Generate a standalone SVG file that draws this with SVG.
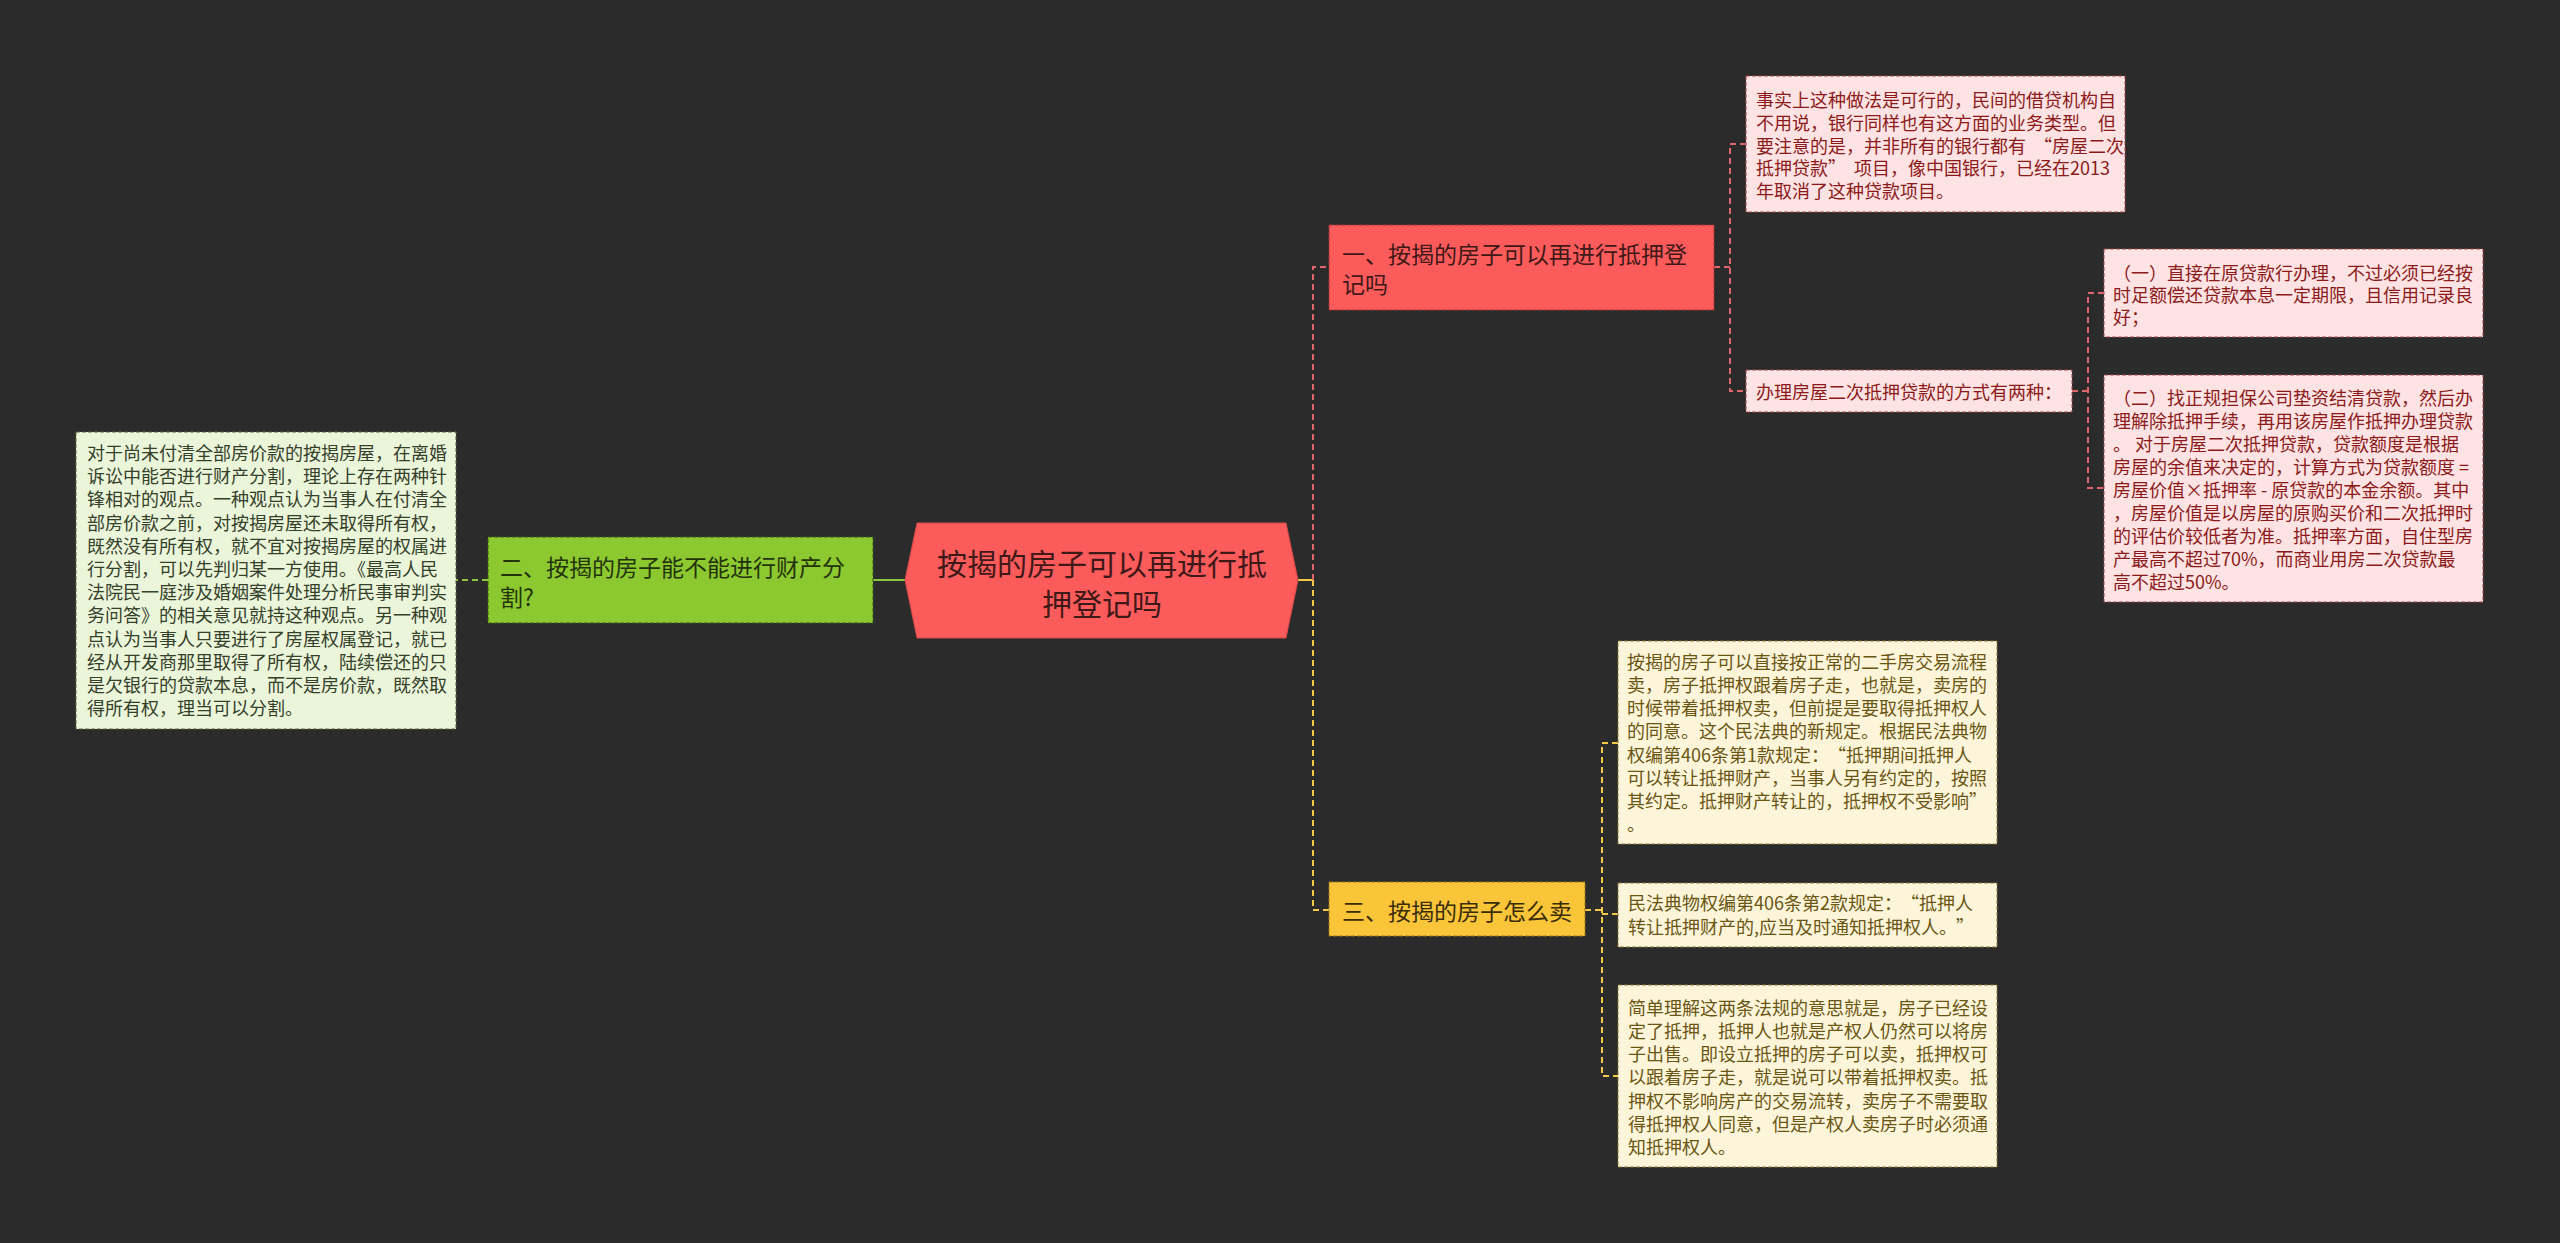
<svg xmlns="http://www.w3.org/2000/svg" width="2560" height="1243" viewBox="0 0 2560 1243">
<style>
text{font-family:"Microsoft YaHei","Noto Sans CJK SC","Noto Sans",sans-serif;}
.t18{font-size:18px;}
.t23{font-size:23px;}
.t30{font-size:30px;}
.pinkbox{fill:#fde3e3;stroke:#a24848;stroke-width:1;stroke-dasharray:4 2;}
.pinktxt{fill:#8c1a1a;}
.rednode{fill:#fb5b5b;stroke:#a83232;stroke-width:1;stroke-dasharray:4 2;}
.redtxt{fill:#3f1818;}
.ybox{fill:#fdf5da;stroke:#8a7838;stroke-width:1;stroke-dasharray:4 2;}
.ytxt{fill:#6a5612;}
.ynode{fill:#fbc53a;stroke:#9a7a18;stroke-width:1;stroke-dasharray:4 2;}
.yntxt{fill:#3a2d08;}
.gnode{fill:#8cc830;stroke:#3d5a14;stroke-width:1;stroke-dasharray:4 2;}
.gntxt{fill:#24330c;}
.gbox{fill:#ebf5da;stroke:#56673a;stroke-width:1;stroke-dasharray:4 2;}
.gtxt{fill:#34402a;}
.cr{fill:none;stroke:#e0666a;stroke-width:2;stroke-dasharray:6 4;}
.cy{fill:none;stroke:#f2c845;stroke-width:2;stroke-dasharray:6 4;}
.cg{fill:none;stroke:#8cc63f;stroke-width:2;stroke-dasharray:6 4;}
</style>
<rect x="0" y="0" width="2560" height="1243" fill="#2b2b2b"/>

<g id="connectors">
  <path d="M1298 580 H1313" fill="none" stroke="#f2c845" stroke-width="2"/>
  <path class="cr" d="M1313 580 V267 H1329"/>
  <path class="cy" d="M1313 580 V910 H1329"/>
  <path class="cr" d="M1714 267 H1730"/>
  <path class="cr" d="M1746 144 H1730 V391 H1746"/>
  <path class="cr" d="M2072 391 H2088"/>
  <path class="cr" d="M2104 293 H2088 V488 H2104"/>
  <path class="cy" d="M1585 910 H1602"/>
  <path class="cy" d="M1618 743 H1602 V1076 H1618 M1602 914 H1618"/>
  <path d="M905 580 H873" fill="none" stroke="#8cc63f" stroke-width="2"/>
  <path class="cg" d="M488 580 H456"/>
</g>

<g id="center">
  <polygon points="917,523 1286,523 1298,580 1286,638 917,638 905,580" fill="#fb5b5b" stroke="#d84848" stroke-width="1"/>
  <text class="t30 redtxt" x="1102" y="574.5" text-anchor="middle">按揭的房子可以再进行抵</text>
  <text class="t30 redtxt" x="1102" y="614.5" text-anchor="middle">押登记吗</text>
</g>

<g id="node-1">
  <rect class="rednode" x="1329" y="225" width="385" height="85"/>
  <text class="t23 redtxt" x="1342" y="262.7">一、按揭的房子可以再进行抵押登</text>
  <text class="t23 redtxt" x="1342" y="292.5">记吗</text>
</g>

<g id="node-1-a">
  <rect class="pinkbox" x="1746" y="76" width="379" height="136"/>
  <text class="t18 pinktxt" x="1756" y="107">事实上这种做法是可行的，民间的借贷机构自</text>
  <text class="t18 pinktxt" x="1756" y="129.8">不用说，银行同样也有这方面的业务类型。但</text>
  <text class="t18 pinktxt" x="1756" y="152.6">要注意的是，并非所有的银行都有<tspan dx="8">“</tspan>房屋二次</text>
  <text class="t18 pinktxt" x="1756" y="175.4">抵押贷款”<tspan dx="8">项目，像中国银行，已经在2013</tspan></text>
  <text class="t18 pinktxt" x="1756" y="198.2">年取消了这种贷款项目。</text>
</g>

<g id="node-1-b">
  <rect class="pinkbox" x="1746" y="370" width="326" height="42"/>
  <text class="t18 pinktxt" x="1756" y="398.5">办理房屋二次抵押贷款的方式有两种：</text>
</g>

<g id="node-1-b-1">
  <rect class="pinkbox" x="2104" y="249" width="379" height="88"/>
  <text class="t18 pinktxt" x="2113" y="280">（一）直接在原贷款行办理，不过必须已经按</text>
  <text class="t18 pinktxt" x="2113" y="302">时足额偿还贷款本息一定期限，且信用记录良</text>
  <text class="t18 pinktxt" x="2113" y="324">好；</text>
</g>

<g id="node-1-b-2">
  <rect class="pinkbox" x="2104" y="375" width="379" height="227"/>
  <text class="t18 pinktxt" x="2113" y="404.8">（二）找正规担保公司垫资结清贷款，然后办</text>
  <text class="t18 pinktxt" x="2113" y="427.8">理解除抵押手续，再用该房屋作抵押办理贷款</text>
  <text class="t18 pinktxt" x="2113" y="450.8">。 对于房屋二次抵押贷款，贷款额度是根据</text>
  <text class="t18 pinktxt" x="2113" y="473.8">房屋的余值来决定的，计算方式为贷款额度 =</text>
  <text class="t18 pinktxt" x="2113" y="496.8">房屋价值×抵押率 - 原贷款的本金余额。其中</text>
  <text class="t18 pinktxt" x="2113" y="519.8">，房屋价值是以房屋的原购买价和二次抵押时</text>
  <text class="t18 pinktxt" x="2113" y="542.8">的评估价较低者为准。抵押率方面，自住型房</text>
  <text class="t18 pinktxt" x="2113" y="565.8">产最高不超过70%，而商业用房二次贷款最</text>
  <text class="t18 pinktxt" x="2113" y="588.8">高不超过50%。</text>
</g>

<g id="node-2">
  <rect class="gnode" x="488" y="537" width="385" height="86"/>
  <text class="t23 gntxt" x="500" y="575.5">二、按揭的房子能不能进行财产分</text>
  <text class="t23 gntxt" x="500" y="605.5">割?</text>
</g>

<g id="node-2-a">
  <rect class="gbox" x="76" y="432" width="380" height="297"/>
  <text class="t18 gtxt" x="87" y="460">对于尚未付清全部房价款的按揭房屋，在离婚</text>
  <text class="t18 gtxt" x="87" y="483.2">诉讼中能否进行财产分割，理论上存在两种针</text>
  <text class="t18 gtxt" x="87" y="506.4">锋相对的观点。一种观点认为当事人在付清全</text>
  <text class="t18 gtxt" x="87" y="529.6">部房价款之前，对按揭房屋还未取得所有权，</text>
  <text class="t18 gtxt" x="87" y="552.8">既然没有所有权，就不宜对按揭房屋的权属进</text>
  <text class="t18 gtxt" x="87" y="576">行分割，可以先判归某一方使用。《最高人民</text>
  <text class="t18 gtxt" x="87" y="599.2">法院民一庭涉及婚姻案件处理分析民事审判实</text>
  <text class="t18 gtxt" x="87" y="622.4">务问答》的相关意见就持这种观点。另一种观</text>
  <text class="t18 gtxt" x="87" y="645.6">点认为当事人只要进行了房屋权属登记，就已</text>
  <text class="t18 gtxt" x="87" y="668.8">经从开发商那里取得了所有权，陆续偿还的只</text>
  <text class="t18 gtxt" x="87" y="692">是欠银行的贷款本息，而不是房价款，既然取</text>
  <text class="t18 gtxt" x="87" y="715.2">得所有权，理当可以分割。</text>
</g>

<g id="node-3">
  <rect class="ynode" x="1329" y="882" width="256" height="54"/>
  <text class="t23 yntxt" x="1342" y="919.5">三、按揭的房子怎么卖</text>
</g>

<g id="node-3-a">
  <rect class="ybox" x="1618" y="641" width="379" height="203"/>
  <text class="t18 ytxt" x="1627" y="668.8">按揭的房子可以直接按正常的二手房交易流程</text>
  <text class="t18 ytxt" x="1627" y="692">卖，房子抵押权跟着房子走，也就是，卖房的</text>
  <text class="t18 ytxt" x="1627" y="715.2">时候带着抵押权卖，但前提是要取得抵押权人</text>
  <text class="t18 ytxt" x="1627" y="738.4">的同意。这个民法典的新规定。根据民法典物</text>
  <text class="t18 ytxt" x="1627" y="761.6">权编第406条第1款规定：<tspan dx="8">“</tspan>抵押期间抵押人</text>
  <text class="t18 ytxt" x="1627" y="784.8">可以转让抵押财产，当事人另有约定的，按照</text>
  <text class="t18 ytxt" x="1627" y="808">其约定。抵押财产转让的，抵押权不受影响”</text>
  <text class="t18 ytxt" x="1627" y="831.2">。</text>
</g>

<g id="node-3-b">
  <rect class="ybox" x="1618" y="883" width="379" height="64"/>
  <text class="t18 ytxt" x="1628" y="910">民法典物权编第406条第2款规定：<tspan dx="8">“</tspan>抵押人</text>
  <text class="t18 ytxt" x="1628" y="933.5">转让抵押财产的,应当及时通知抵押权人。<tspan dx="8">”</tspan></text>
</g>

<g id="node-3-c">
  <rect class="ybox" x="1618" y="985" width="379" height="182"/>
  <text class="t18 ytxt" x="1628" y="1014.8">简单理解这两条法规的意思就是，房子已经设</text>
  <text class="t18 ytxt" x="1628" y="1038">定了抵押，抵押人也就是产权人仍然可以将房</text>
  <text class="t18 ytxt" x="1628" y="1061.2">子出售。即设立抵押的房子可以卖，抵押权可</text>
  <text class="t18 ytxt" x="1628" y="1084.4">以跟着房子走，就是说可以带着抵押权卖。抵</text>
  <text class="t18 ytxt" x="1628" y="1107.6">押权不影响房产的交易流转，卖房子不需要取</text>
  <text class="t18 ytxt" x="1628" y="1130.8">得抵押权人同意，但是产权人卖房子时必须通</text>
  <text class="t18 ytxt" x="1628" y="1154">知抵押权人。</text>
</g>
</svg>
